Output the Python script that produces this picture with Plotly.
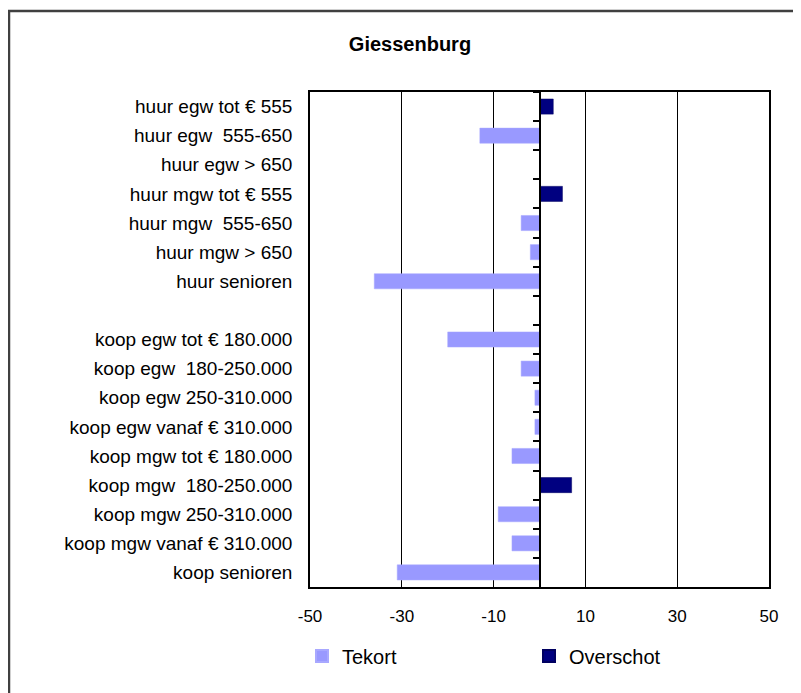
import plotly.graph_objects as go

categories = [
    "huur egw tot € 555",
    "huur egw  555-650",
    "huur egw > 650",
    "huur mgw tot € 555",
    "huur mgw  555-650",
    "huur mgw > 650",
    "huur senioren",
    " ",
    "koop egw tot € 180.000",
    "koop egw  180-250.000",
    "koop egw 250-310.000",
    "koop egw vanaf € 310.000",
    "koop mgw tot € 180.000",
    "koop mgw  180-250.000",
    "koop mgw 250-310.000",
    "koop mgw vanaf € 310.000",
    "koop senioren",
]
tekort = [0, -13, 0, 0, -4, -2, -36, None, -20, -4, -1, -1, -6, 0, -9, -6, -31]
overschot = [3, 0, 0, 5, 0, 0, 0, None, 0, 0, 0, 0, 0, 7, 0, 0, 0]
x_ticks = [-50, -30, -10, 10, 30, 50]
x_tick_labels = ["-50", "-30", "-10", "10", "30", "50"]

FONT = "Liberation Sans, Arial, sans-serif"
W, H = 793, 685          # page has an 8px body margin
L, R, T, B = 302, 32, 84, 106
pw = W - L - R
ph = H - T - B

fig = go.Figure()
fig.add_trace(go.Bar(
    y=categories, x=tekort, orientation="h", name="Tekort",
    marker=dict(color="#9999FF", line=dict(color="#A8A8FF", width=0.5)),
))
fig.add_trace(go.Bar(
    y=categories, x=overschot, orientation="h", name="Overschot",
    marker=dict(color="#000080", line=dict(color="#000060", width=0.5)),
))
# invisible trace carrying the zero-crossing category axis
fig.add_trace(go.Scatter(
    y=categories, x=[None] * len(categories), yaxis="y2", mode="lines",
    showlegend=False, hoverinfo="skip",
))

n = len(categories)
fig.update_layout(
    width=W, height=H,
    margin=dict(l=L, r=R, t=T, b=B),
    paper_bgcolor="white", plot_bgcolor="white",
    barmode="overlay", bargap=0.48,
    font=dict(family=FONT, color="black"),
    title=dict(text="<b>Giessenburg</b>", x=402 / W, xref="container", xanchor="center",
               y=1 - 36 / H, yref="container", yanchor="middle",
               font=dict(family=FONT, size=20, color="black")),
    xaxis=dict(range=[-50, 50], tickvals=x_ticks, ticktext=x_tick_labels,
               showgrid=True, gridcolor="black", gridwidth=1,
               zeroline=False, showline=True, linecolor="black", linewidth=1.5, mirror=True,
               ticks="", tickfont=dict(size=17, color="black"), ticklabelstandoff=13),
    yaxis=dict(type="category", categoryorder="array", categoryarray=categories,
               range=[n - 0.5, -0.5], showgrid=False, showline=True, linecolor="black",
               linewidth=1.5, mirror=True, ticks="", tickfont=dict(size=19, color="black"),
               ticklabelstandoff=12),
    yaxis2=dict(matches="y", overlaying="y", anchor="free", position=0.5, side="left",
                type="category", showline=True, linecolor="black", linewidth=1.5,
                ticks="outside", ticklen=6, tickwidth=1.5, tickcolor="black",
                tickson="boundaries", showticklabels=False, showgrid=False),
    legend=dict(orientation="h", x=(294 - L) / pw, xanchor="left",
                y=(T + ph - 648) / ph, yanchor="middle",
                entrywidth=182, entrywidthmode="pixels",
                font=dict(size=20, color="black"), itemsizing="constant"),
    shapes=[dict(type="rect", xref="paper", yref="paper",
                 x0=(1 - L) / pw, x1=(W + 10 - L) / pw,
                 y0=(T + ph - (H + 10)) / ph, y1=(T + ph - 3) / ph,
                 line=dict(color="#404040", width=2.5), fillcolor="rgba(0,0,0,0)", layer="below")],
)

fig.write_html("out.html")
